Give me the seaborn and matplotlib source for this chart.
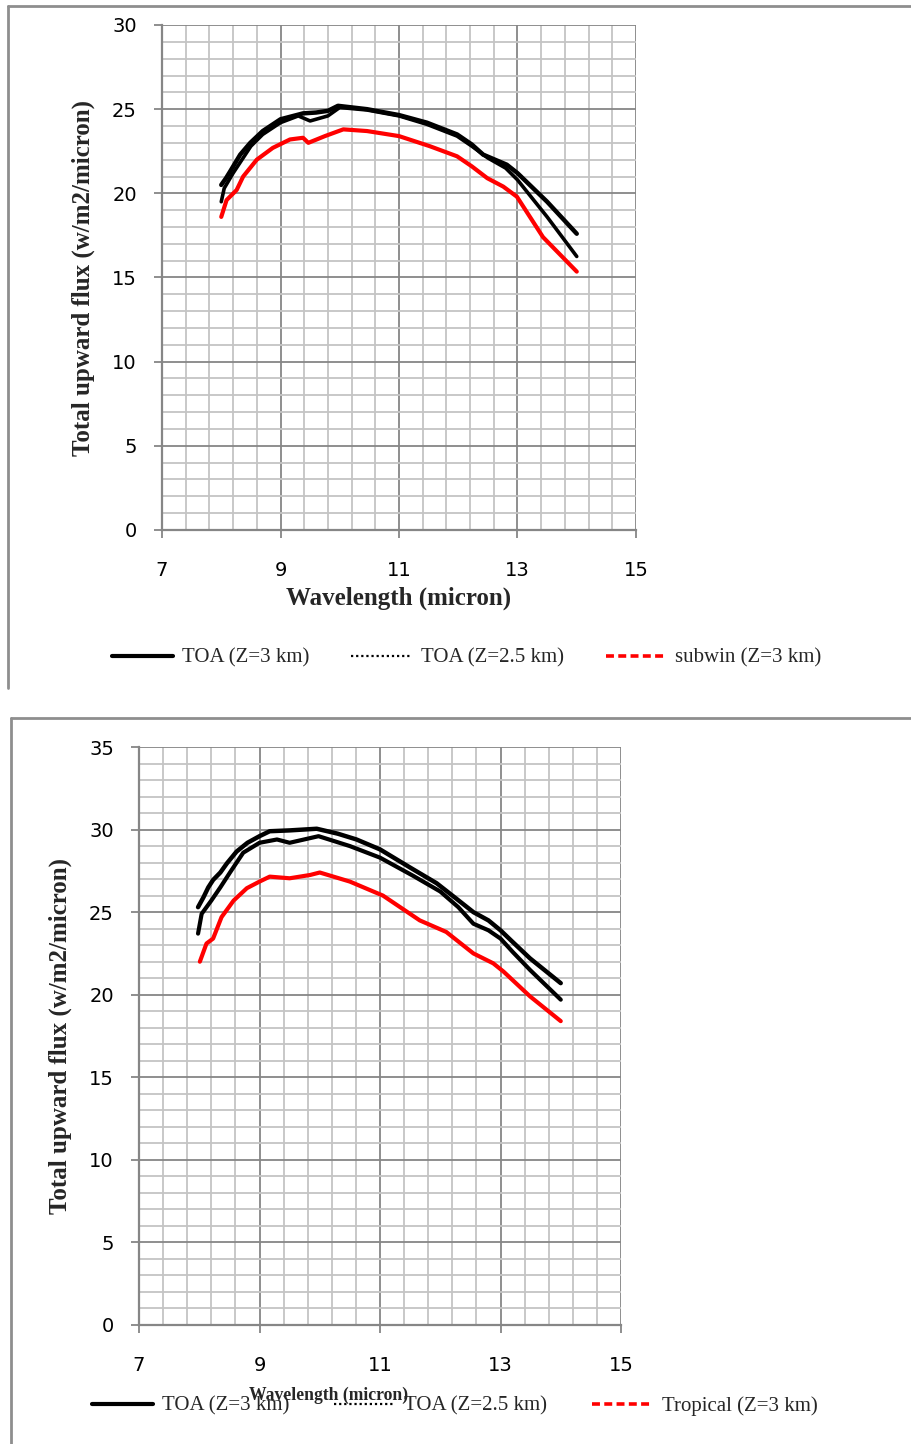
import numpy as np
import pandas as pd
import matplotlib
matplotlib.use("Agg")
import matplotlib.pyplot as plt
import seaborn as sns
from matplotlib.ticker import MultipleLocator
from matplotlib.lines import Line2D

sns.set_theme(style="white")
plt.rcParams['font.family'] = ['DejaVu Sans']

# ---------------- Data: top chart (subwin) ----------------
wl_top_toa3 = [8.0, 8.08, 8.15, 8.32, 8.49, 8.70, 9.0, 9.38, 9.6, 9.8, 9.97, 10.46, 11.0, 11.47, 11.98,
               12.23, 12.42, 12.82, 13.0, 13.5, 14.0]
flux_top_toa3 = [20.5, 20.9, 21.3, 22.3, 23.0, 23.7, 24.4, 24.75, 24.8, 24.9, 25.2, 25.0, 24.65, 24.2, 23.5,
                 22.9, 22.3, 21.7, 21.2, 19.5, 17.6]

wl_top_toa25 = [8.0, 8.05, 8.1, 8.2, 8.35, 8.5, 8.7, 9.0, 9.3, 9.5, 9.8, 10.0, 10.46, 11.0, 11.47, 11.98,
                12.23, 12.5, 12.8, 13.0, 13.5, 14.0]
flux_top_toa25 = [19.5, 20.3, 20.6, 21.2, 22.0, 22.8, 23.5, 24.2, 24.6, 24.3, 24.6, 25.1, 24.95, 24.6,
                  24.1, 23.4, 22.8, 22.1, 21.5, 20.8, 18.6, 16.25]

wl_top_sub = [8.0, 8.09, 8.26, 8.37, 8.6, 8.87, 9.16, 9.38, 9.47, 9.75, 10.06, 10.46, 11.0, 11.52,
              11.98, 12.23, 12.49, 12.76, 12.99, 13.43, 14.0]
flux_top_sub = [18.6, 19.6, 20.2, 21.0, 22.0, 22.7, 23.2, 23.3, 23.0, 23.4, 23.8, 23.7, 23.4, 22.8,
                22.2, 21.6, 20.9, 20.4, 19.8, 17.4, 15.35]

# ---------------- Data: bottom chart (tropical) ----------------
wl_bot_toa3 = [7.98, 8.07, 8.15, 8.23, 8.35, 8.46, 8.62, 8.8, 9.0, 9.17, 9.5, 9.95, 10.3, 10.61, 11.0,
               11.5, 11.94, 12.22, 12.55, 12.8, 13.0, 13.2, 13.49, 14.0]
flux_bot_toa3 = [25.3, 25.9, 26.5, 26.95, 27.4, 27.96, 28.67, 29.2, 29.6, 29.9, 29.95, 30.05, 29.75, 29.4,
                 28.8, 27.7, 26.75, 25.95, 25.0, 24.5, 23.9, 23.2, 22.2, 20.7]

wl_bot_toa25 = [7.98, 8.04, 8.2, 8.35, 8.51, 8.73, 9.0, 9.29, 9.5, 9.98, 10.5, 11.0, 11.55, 12.0, 12.3,
                12.55, 12.8, 13.0, 13.2, 13.49, 14.0]
flux_bot_toa25 = [23.7, 24.9, 25.7, 26.5, 27.4, 28.6, 29.2, 29.4, 29.2, 29.6, 29.0, 28.3, 27.2, 26.25,
                  25.3, 24.3, 23.9, 23.4, 22.6, 21.5, 19.7]

wl_bot_trop = [8.01, 8.12, 8.23, 8.37, 8.57, 8.79, 9.0, 9.17, 9.5, 9.84, 10.0, 10.5, 11.05, 11.66,
               12.1, 12.55, 12.88, 13.05, 13.49, 14.0]
flux_bot_trop = [22.0, 23.1, 23.4, 24.7, 25.7, 26.45, 26.85, 27.15, 27.05, 27.25, 27.4, 26.85, 26.0,
                 24.5, 23.8, 22.5, 21.9, 21.4, 19.9, 18.4]

legend_top = ["TOA (Z=3 km)", "TOA (Z=2.5 km)", "subwin (Z=3 km)"]
legend_bot = ["TOA (Z=3 km)", "TOA (Z=2.5 km)", "Tropical (Z=3 km)"]
xticks_major = [7, 9, 11, 13, 15]
xlabel = "Wavelength (micron)"
ylabel = "Total upward flux (w/m2/micron)"

W, H = 912, 1444
fig = plt.figure(figsize=(W / 100, H / 100), dpi=100)


def fx(px):
    return px / W


def fy(py):
    return 1 - py / H


MAJ = '#868686'
MIN = '#c4c4c4'


def style_axes(ax, ymax, ytick_fs=14):
    ax.set_xlim(7, 15)
    ax.set_ylim(0, ymax)
    ax.set_xticks(xticks_major)
    ax.set_xticks(np.linspace(7, 15, 21), minor=True)
    ax.yaxis.set_major_locator(MultipleLocator(5))
    ax.yaxis.set_minor_locator(MultipleLocator(1))
    ax.grid(which='minor', color=MIN, lw=1.3, zorder=0)
    ax.grid(which='major', color=MAJ, lw=1.3, zorder=0)
    ax.set_axisbelow(True)
    for s in ['top', 'right']:
        ax.spines[s].set_visible(False)
    for s in ['left', 'bottom']:
        ax.spines[s].set_color(MAJ)
        ax.spines[s].set_linewidth(1.6)
    ax.tick_params(which='major', direction='out', length=6, width=1.3, color=MAJ,
                   labelsize=ytick_fs, left=True, bottom=True, labelcolor='black')
    ax.tick_params(which='minor', length=0)
    ax.tick_params(axis='x', pad=16)
    ax.tick_params(axis='y', pad=12)


def draw(ax, xs, ys, color, lw):
    df = pd.DataFrame({"x": xs, "y": ys})
    sns.lineplot(data=df, x="x", y="y", ax=ax, color=color, lw=lw, sort=False,
                 estimator=None, zorder=3)


# ---------------- Top chart ----------------
ax1 = fig.add_axes([fx(162), fy(530), fx(636) - fx(162), fy(25) - fy(530)])
draw(ax1, wl_top_sub, flux_top_sub, 'red', 3.0)
draw(ax1, wl_top_toa25, flux_top_toa25, 'black', 2.6)
draw(ax1, wl_top_toa3, flux_top_toa3, 'black', 3.2)
style_axes(ax1, 30)
ax1.set_xlabel(xlabel, fontsize=18, fontweight='bold', family='Liberation Serif', labelpad=5)
ax1.set_ylabel(ylabel, fontsize=18, fontweight='bold', family='Liberation Serif', labelpad=12)

# ---------------- Bottom chart ----------------
ax2 = fig.add_axes([fx(139), fy(1325), fx(621) - fx(139), fy(747) - fy(1325)])
draw(ax2, wl_bot_trop, flux_bot_trop, 'red', 3.0)
draw(ax2, wl_bot_toa25, flux_bot_toa25, 'black', 3.0)
draw(ax2, wl_bot_toa3, flux_bot_toa3, 'black', 3.2)
style_axes(ax2, 35)
ax2.set_xlabel("")
ax2.set_ylabel(ylabel, fontsize=18, fontweight='bold', family='Liberation Serif', labelpad=12)
fig.text(fx(329), fy(1395), xlabel, fontsize=12.7, fontweight='bold', family='Liberation Serif',
         ha='center', va='center')

# ---------------- Legends ----------------
def make_handles():
    return [Line2D([], [], color='black', lw=3.0, ls='-'),
            Line2D([], [], color='black', lw=1.6, ls=(0, (1, 1.3))),
            Line2D([], [], color='red', lw=2.6, ls=(0, (2.2, 1.2)))]


def place_legend(labels, x0, x1, yc):
    fig.legend(make_handles(), labels, ncol=3, loc='center left', mode='expand',
               bbox_to_anchor=(fx(x0), fy(yc) - 0.01, fx(x1) - fx(x0), 0.02),
               frameon=False, handlelength=2.9, handletextpad=0.45,
               prop={'family': 'Liberation Serif', 'size': 15}, borderaxespad=0)


place_legend(legend_top, 104, 830, 658)
place_legend(legend_bot, 84, 826, 1406)

# ---------------- Panel frames ----------------
fc = '#8e8e8e'
fig.add_artist(Line2D([fx(8), fx(912)], [fy(6), fy(6)], color=fc, lw=2, transform=fig.transFigure))
fig.add_artist(Line2D([fx(8), fx(8)], [fy(6), fy(688)], color=fc, lw=2, transform=fig.transFigure))
fig.add_artist(Line2D([fx(11), fx(912)], [fy(718), fy(718)], color=fc, lw=2, transform=fig.transFigure))
fig.add_artist(Line2D([fx(11), fx(11)], [fy(718), fy(1444)], color=fc, lw=2, transform=fig.transFigure))

fig.savefig("out.png", dpi=100)
